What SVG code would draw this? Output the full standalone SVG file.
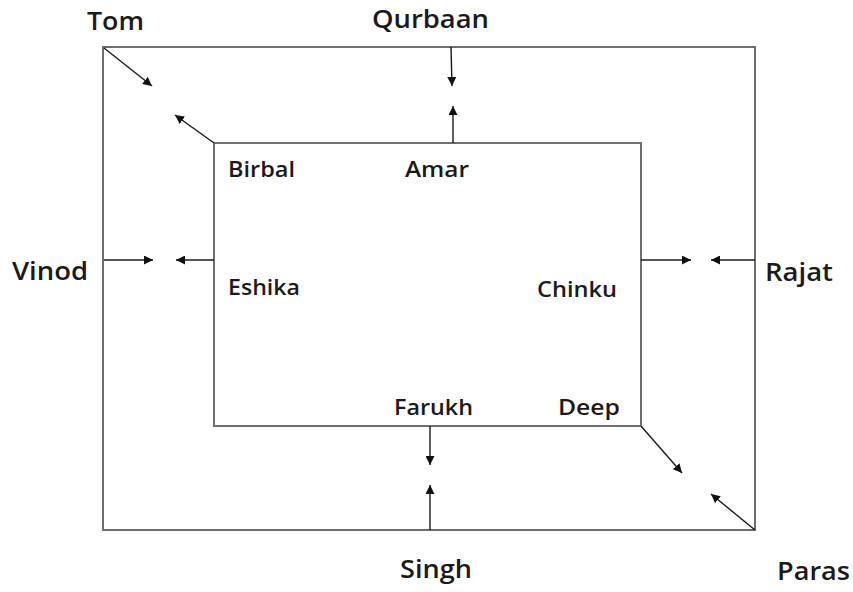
<svg xmlns="http://www.w3.org/2000/svg" width="853" height="592" viewBox="0 0 853 592">
<style>
.frame{fill:none;stroke:#6e6e6e;stroke-width:2}
.arr{fill:none;stroke:#1a1a1a;stroke-width:1.4;marker-end:url(#ah)}
.lbl{font-family:"Open Sans","Liberation Sans",Arial,sans-serif;font-weight:600;fill:#1a1a1a}
.outer{font-size:25px}
.inner{font-size:22px}
</style>
<defs>
<marker id="ah" viewBox="0 0 10 10" refX="10" refY="5" markerWidth="9" markerHeight="9" markerUnits="userSpaceOnUse" orient="auto">
<path d="M0,0 L10,5 L0,10 z" fill="#111"/>
</marker>
</defs>
<rect id="outer-frame" class="frame" x="103" y="47" width="652" height="483"/>
<rect id="inner-frame" class="frame" x="214" y="143" width="427" height="283"/>
<g id="connectors">
<line class="arr" x1="104" y1="48" x2="152" y2="86"/>
<line class="arr" x1="214" y1="143" x2="175" y2="115"/>
<line class="arr" x1="451" y1="47" x2="452" y2="86"/>
<line class="arr" x1="453" y1="143" x2="453" y2="106"/>
<line class="arr" x1="104" y1="260" x2="153" y2="260"/>
<line class="arr" x1="214" y1="260" x2="176" y2="260"/>
<line class="arr" x1="641" y1="260" x2="691" y2="260"/>
<line class="arr" x1="755" y1="260" x2="711" y2="260"/>
<line class="arr" x1="430" y1="426" x2="430" y2="465"/>
<line class="arr" x1="430" y1="530" x2="430" y2="485"/>
<line class="arr" x1="641" y1="426" x2="682" y2="473"/>
<line class="arr" x1="755" y1="530" x2="711" y2="494"/>
</g>
<g id="node-tom"><text class="lbl outer" x="87" y="30" textLength="57" lengthAdjust="spacingAndGlyphs">Tom</text></g>
<g id="node-qurbaan"><text class="lbl outer" x="372" y="28" textLength="117" lengthAdjust="spacingAndGlyphs">Qurbaan</text></g>
<g id="node-vinod"><text class="lbl outer" x="12" y="280" textLength="76" lengthAdjust="spacingAndGlyphs">Vinod</text></g>
<g id="node-rajat"><text class="lbl outer" x="765" y="281" textLength="68" lengthAdjust="spacingAndGlyphs">Rajat</text></g>
<g id="node-singh"><text class="lbl outer" x="400" y="578" textLength="72" lengthAdjust="spacingAndGlyphs">Singh</text></g>
<g id="node-paras"><text class="lbl outer" x="777" y="580" textLength="73" lengthAdjust="spacingAndGlyphs">Paras</text></g>
<g id="node-birbal"><text class="lbl inner" x="228" y="177" textLength="67" lengthAdjust="spacingAndGlyphs">Birbal</text></g>
<g id="node-amar"><text class="lbl inner" x="405" y="177" textLength="64" lengthAdjust="spacingAndGlyphs">Amar</text></g>
<g id="node-eshika"><text class="lbl inner" x="228" y="295" textLength="72" lengthAdjust="spacingAndGlyphs">Eshika</text></g>
<g id="node-chinku"><text class="lbl inner" x="537" y="297" textLength="80" lengthAdjust="spacingAndGlyphs">Chinku</text></g>
<g id="node-farukh"><text class="lbl inner" x="394" y="415" textLength="79" lengthAdjust="spacingAndGlyphs">Farukh</text></g>
<g id="node-deep"><text class="lbl inner" x="558" y="415" textLength="62" lengthAdjust="spacingAndGlyphs">Deep</text></g>
</svg>
